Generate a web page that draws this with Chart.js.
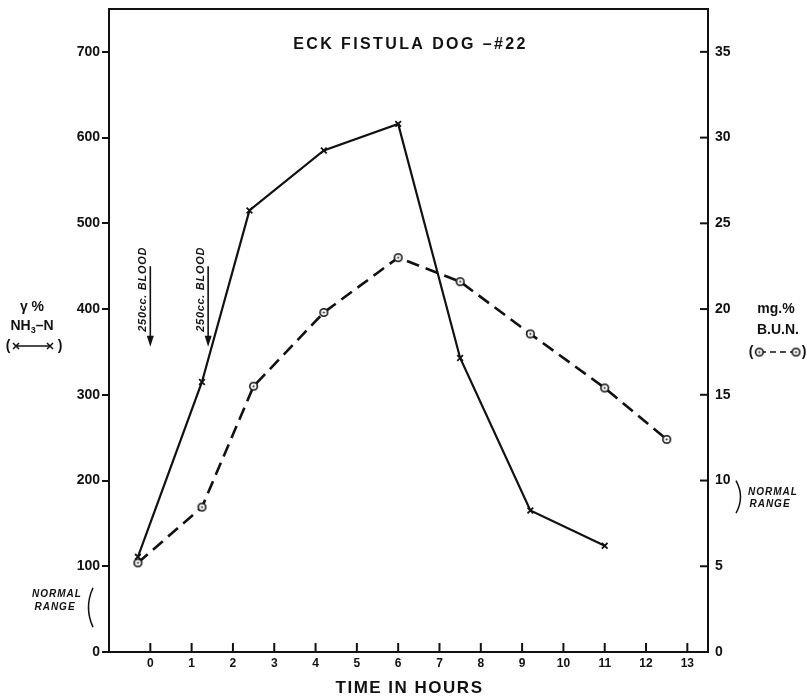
<!DOCTYPE html>
<html>
<head>
<meta charset="utf-8">
<script src="https://cdn.jsdelivr.net/npm/chart.js@4.4.0/dist/chart.umd.min.js"></script>
<style>
    html, body { margin: 0; padding: 0; background: #fff; }
    canvas { display: block; }
</style>
</head>
<body>
<canvas id="grap1" width="807" height="697"></canvas>
<script>
// NH3-N (gamma %) - left axis
var nh3Hours = [-0.3, 1.25, 2.4, 4.2, 6.0, 7.5, 9.2, 11.0];
var nh3Values = [111, 315, 515, 585, 616, 343, 165, 124];

// B.U.N. (mg.%) - right axis
var bunHours = [-0.3, 1.25, 2.5, 4.2, 6.0, 7.5, 9.2, 11.0, 12.5];
var bunValues = [5.2, 8.45, 15.5, 19.8, 23.0, 21.6, 18.55, 15.4, 12.4];

// tick labels
var hourTicks = [0, 1, 2, 3, 4, 5, 6, 7, 8, 9, 10, 11, 12, 13];
var nh3Ticks = [0, 100, 200, 300, 400, 500, 600, 700];
var bunTicks = [0, 5, 10, 15, 20, 25, 30, 35];

// 250cc blood given at these hours
var bloodHours = [0, 1.4];
var bloodText = '250cc. BLOOD';

// normal ranges
var nh3Normal = [29, 75];
var bunNormal = [8.1, 10];

var FONT = '"Liberation Sans", Arial, sans-serif';
var INK = '#111';

function ringDot() {
    var c = document.createElement('canvas');
    c.width = 11;
    c.height = 11;
    var g = c.getContext('2d');
    g.fillStyle = '#fff';
    g.strokeStyle = INK;
    g.lineWidth = 1.6;
    g.beginPath();
    g.arc(5.5, 5.5, 3.8, 0, Math.PI * 2);
    g.fill();
    g.stroke();
    g.fillStyle = INK;
    g.beginPath();
    g.arc(5.5, 5.5, 1, 0, Math.PI * 2);
    g.fill();
    return c;
}
var ring = ringDot();

function pairs(xs, ys) {
    return xs.map(function (x, i) { return { x: x, y: ys[i] }; });
}

function useTicks(list) {
    return function (scale) {
        scale.ticks = list.map(function (v) { return { value: v }; });
    };
}

// fixed box size, no extra label padding
function boxSize(w, h) {
    return function (s) {
        if (w) s.width = w;
        if (h) s.height = h;
        s.paddingTop = 0;
        s.paddingBottom = 0;
        s.paddingLeft = 0;
        s.paddingRight = 0;
    };
}

function cross(ctx, x, y, r) {
    ctx.beginPath();
    ctx.moveTo(x - r, y - r); ctx.lineTo(x + r, y + r);
    ctx.moveTo(x - r, y + r); ctx.lineTo(x + r, y - r);
    ctx.stroke();
}

var annotations = {
    id: 'annotations',
    afterDraw: function (chart) {
        var ctx = chart.ctx;
        var a = chart.chartArea;
        var x = chart.scales.x, y = chart.scales.y, y1 = chart.scales.y1;

        ctx.save();
        ctx.strokeStyle = INK;
        ctx.fillStyle = INK;

        // frame
        ctx.lineWidth = 2;
        ctx.strokeRect(a.left, a.top, a.right - a.left, a.bottom - a.top);

        // inside ticks (bottom and right)
        hourTicks.forEach(function (h) {
            var px = x.getPixelForValue(h);
            ctx.beginPath();
            ctx.moveTo(px, a.bottom);
            ctx.lineTo(px, a.bottom - 9);
            ctx.stroke();
        });
        bunTicks.forEach(function (v) {
            var py = y1.getPixelForValue(v);
            ctx.beginPath();
            ctx.moveTo(a.right, py);
            ctx.lineTo(a.right - 8, py);
            ctx.stroke();
        });

        // title
        ctx.textAlign = 'center';
        ctx.textBaseline = 'middle';
        ctx.font = 'bold 16px ' + FONT;
        ctx.letterSpacing = '2.4px';
        ctx.fillText('ECK FISTULA DOG \u2013#22', (a.left + a.right) / 2 + 2, y.getPixelForValue(708));

        // x axis title
        ctx.font = 'bold 17px ' + FONT;
        ctx.letterSpacing = '1.5px';
        ctx.fillText('TIME IN HOURS', (a.left + a.right) / 2 + 1, 688);

        // blood arrows
        ctx.font = 'italic bold 11px ' + FONT;
        ctx.letterSpacing = '0.7px';
        ctx.lineWidth = 1.6;
        bloodHours.forEach(function (h) {
            var px = x.getPixelForValue(h);
            var top = y.getPixelForValue(450);
            var tip = y.getPixelForValue(356);
            ctx.beginPath();
            ctx.moveTo(px, top);
            ctx.lineTo(px, tip - 8);
            ctx.stroke();
            ctx.beginPath();
            ctx.moveTo(px - 3.5, tip - 11);
            ctx.lineTo(px + 3.5, tip - 11);
            ctx.lineTo(px, tip);
            ctx.closePath();
            ctx.fill();
            ctx.save();
            ctx.translate(px - 7.5, y.getPixelForValue(423));
            ctx.rotate(-Math.PI / 2);
            ctx.fillText(bloodText, 0, 0);
            ctx.restore();
        });

        // left axis label
        ctx.letterSpacing = '0px';
        var ly = y.getPixelForValue(400);
        ctx.font = 'bold 14px ' + FONT;
        ctx.fillText('\u03b3 %', 32, ly - 2);
        var w1 = ctx.measureText('NH').width;
        var w3 = ctx.measureText('\u2013N').width;
        ctx.font = 'bold 9px ' + FONT;
        var w2 = ctx.measureText('3').width;
        var sx = 32 - (w1 + w2 + w3) / 2;
        ctx.textAlign = 'left';
        ctx.font = 'bold 14px ' + FONT;
        ctx.fillText('NH', sx, ly + 17);
        ctx.fillText('\u2013N', sx + w1 + w2, ly + 17);
        ctx.font = 'bold 9px ' + FONT;
        ctx.fillText('3', sx + w1, ly + 21);
        ctx.textAlign = 'center';
        ctx.font = 'bold 14px ' + FONT;
        ctx.fillText('(', 8, ly + 37);
        ctx.fillText(')', 60, ly + 37);
        ctx.lineWidth = 1.5;
        ctx.beginPath();
        ctx.moveTo(16, ly + 37);
        ctx.lineTo(50, ly + 37);
        ctx.stroke();
        cross(ctx, 16, ly + 37, 3);
        cross(ctx, 50, ly + 37, 3);

        // right axis label
        var ry = y1.getPixelForValue(20);
        ctx.fillText('mg.%', 776, ry);
        ctx.fillText('B.U.N.', 778, ry + 21);
        ctx.fillText('(', 751, ry + 43);
        ctx.fillText(')', 804, ry + 43);
        ctx.setLineDash([6, 4]);
        ctx.beginPath();
        ctx.moveTo(760, ry + 43);
        ctx.lineTo(796, ry + 43);
        ctx.stroke();
        ctx.setLineDash([]);
        ctx.drawImage(ring, 759.3 - 5.5, ry + 43 - 5.5);
        ctx.drawImage(ring, 796 - 5.5, ry + 43 - 5.5);

        // normal ranges
        ctx.font = 'italic bold 10px ' + FONT;
        ctx.letterSpacing = '1px';
        ctx.lineWidth = 1.5;
        var t = y.getPixelForValue(nh3Normal[1]);
        var b = y.getPixelForValue(nh3Normal[0]);
        ctx.beginPath();
        ctx.moveTo(93, t);
        ctx.quadraticCurveTo(84, (t + b) / 2, 93, b);
        ctx.stroke();
        ctx.fillText('NORMAL', 57, 594);
        ctx.fillText('RANGE', 55, 607);

        t = y1.getPixelForValue(bunNormal[1]);
        b = y1.getPixelForValue(bunNormal[0]);
        ctx.beginPath();
        ctx.moveTo(736, t);
        ctx.quadraticCurveTo(745, (t + b) / 2, 736, b);
        ctx.stroke();
        ctx.fillText('NORMAL', 773, 492);
        ctx.fillText('RANGE', 770, 504);

        ctx.restore();
    }
};

var ctx = document.getElementById('grap1').getContext('2d');
var chart = new Chart(ctx, {
    type: 'line',
    data: {
        datasets: [
            {
                label: 'NH3-N',
                data: pairs(nh3Hours, nh3Values),
                yAxisID: 'y',
                borderColor: INK,
                borderWidth: 2.2,
                pointStyle: 'crossRot',
                pointRadius: 4,
                pointBorderWidth: 1.8,
                pointBorderColor: INK,
                tension: 0,
                fill: false
            },
            {
                label: 'B.U.N.',
                data: pairs(bunHours, bunValues),
                yAxisID: 'y1',
                borderColor: INK,
                borderWidth: 2.6,
                borderDash: [13, 7],
                pointStyle: ring,
                pointRadius: 4,
                tension: 0,
                fill: false
            }
        ]
    },
    plugins: [annotations],
    options: {
        responsive: false,
        animation: false,
        layout: { padding: { top: 9, left: 0, right: 0, bottom: 0 } },
        plugins: {
            legend: { display: false },
            tooltip: { enabled: false },
            title: { display: false }
        },
        scales: {
            x: {
                type: 'linear',
                min: -1,
                max: 13.5,
                afterBuildTicks: useTicks(hourTicks),
                afterFit: boxSize(0, 45),
                grid: { drawOnChartArea: false, drawTicks: false },
                border: { display: false },
                ticks: {
                    color: INK,
                    font: { family: FONT, size: 12, weight: 'bold' },
                    padding: 4,
                    maxRotation: 0,
                    autoSkip: false
                }
            },
            y: {
                type: 'linear',
                position: 'left',
                min: 0,
                max: 750,
                afterBuildTicks: useTicks(nh3Ticks),
                afterFit: boxSize(109, 0),
                grid: { drawOnChartArea: false, drawTicks: true, tickLength: 7, color: INK, lineWidth: 2 },
                border: { display: false },
                ticks: {
                    color: INK,
                    font: { family: FONT, size: 14, weight: 'bold' },
                    padding: 2
                }
            },
            y1: {
                type: 'linear',
                position: 'right',
                min: 0,
                max: 37.5,
                afterBuildTicks: useTicks(bunTicks),
                afterFit: boxSize(99, 0),
                grid: { drawOnChartArea: false, drawTicks: false },
                border: { display: false },
                ticks: {
                    color: INK,
                    font: { family: FONT, size: 14, weight: 'bold' },
                    padding: 7
                }
            }
        }
    }
});
</script>
</body>
</html>
